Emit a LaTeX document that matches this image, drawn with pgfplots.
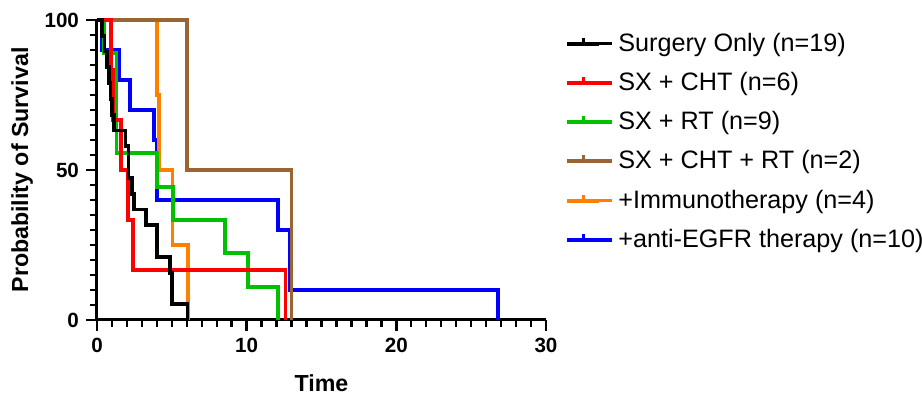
\documentclass[border=0pt]{standalone}
\usepackage{fontspec}
\setmainfont{Liberation Sans}
\usepackage{pgfplots}
\pgfplotsset{compat=1.18}
\definecolor{cgreen}{RGB}{0,192,0}
\definecolor{cbrown}{RGB}{153,102,51}
\definecolor{corange}{RGB}{255,128,0}
\begin{document}
\begin{tikzpicture}
\begin{axis}[name=ax, scale only axis, width=224.5pt, height=150pt,
 xmin=0,xmax=30,ymin=0,ymax=100,
 axis lines=left, axis line style={line width=1.5pt,-},
 xtick={0,10,20,30}, ytick={0,50,100},
 minor xtick={1,...,29}, minor ytick={5,10,...,95},
 tick align=outside, major tick length=5.5pt, minor tick length=3.5pt,
 every tick/.style={black,line width=1.2pt},
 ticklabel style={font=\bfseries\fontsize{10.3}{12}\selectfont},
 /pgf/number format/assume math mode=true,
 xlabel={Time}, ylabel={Probability of Survival},
 label style={font=\bfseries\fontsize{11.6}{13}\selectfont},
 xlabel style={yshift=-4pt},
 ylabel style={yshift=-1pt},
 clip=false,
 legend style={draw=none, fill=none, at={(1.029,0.985)}, anchor=north west, font=\fontsize{12.6}{15}\selectfont, row sep=5pt},
 legend cell align=left,
 reverse legend,
 legend image code/.code={\draw[#1,line width=2pt] (0pt,0pt) -- (16pt,0pt); \draw[#1,line width=1.5pt] (8pt,0pt) -- (8pt,3pt); \path (0pt,0pt) -- (22.5pt,0pt);},
 every axis plot/.append style={const plot, line width=1.9pt, mark=none},
]
\addplot[blue] coordinates {(0,100)(0.3,90)(1.5,80)(2.2,70)(3.8,60)(4.0,40)(12.1,30)(12.9,10)(26.8,0)};
\addlegendentry{+anti-EGFR therapy (n=10)}
\addplot[corange] coordinates {(0,100)(4.0,75)(4.12,50)(5.05,25)(6.07,0)};
\addlegendentry{+Immunotherapy (n=4)}
\addplot[cbrown] coordinates {(0,100)(6.0,50)(13.0,0)};
\addlegendentry{SX + CHT + RT (n=2)}
\addplot[cgreen] coordinates {(0,100)(0.45,88.89)(1.3,55.56)(4.0,44.44)(5.07,33.33)(8.55,22.22)(10.07,11.11)(12.07,0)};
\addlegendentry{SX + RT (n=9)}
\addplot[red] coordinates {(0,100)(0.95,83.33)(1.05,66.67)(1.6,50)(2.05,33.33)(2.4,16.67)(12.6,0)};
\addlegendentry{SX + CHT (n=6)}
\addplot[black] coordinates {(0,100)(0.33,94.74)(0.5,89.47)(0.67,84.21)(0.8,78.95)(0.9,73.68)(1.0,68.42)(1.15,63.16)(1.9,57.89)(2.1,47.37)(2.33,42.11)(2.45,36.84)(3.3,31.58)(4.0,21.05)(4.87,15.79)(5.0,5.26)(6.05,0)};
\addlegendentry{Surgery Only (n=19)}
\end{axis}
\pgfresetboundingbox
\path ([xshift=-48.5pt,yshift=-37.5pt]ax.south west) rectangle ([xshift=412.5pt,yshift=160pt]ax.south west);
\end{tikzpicture}
\end{document}
